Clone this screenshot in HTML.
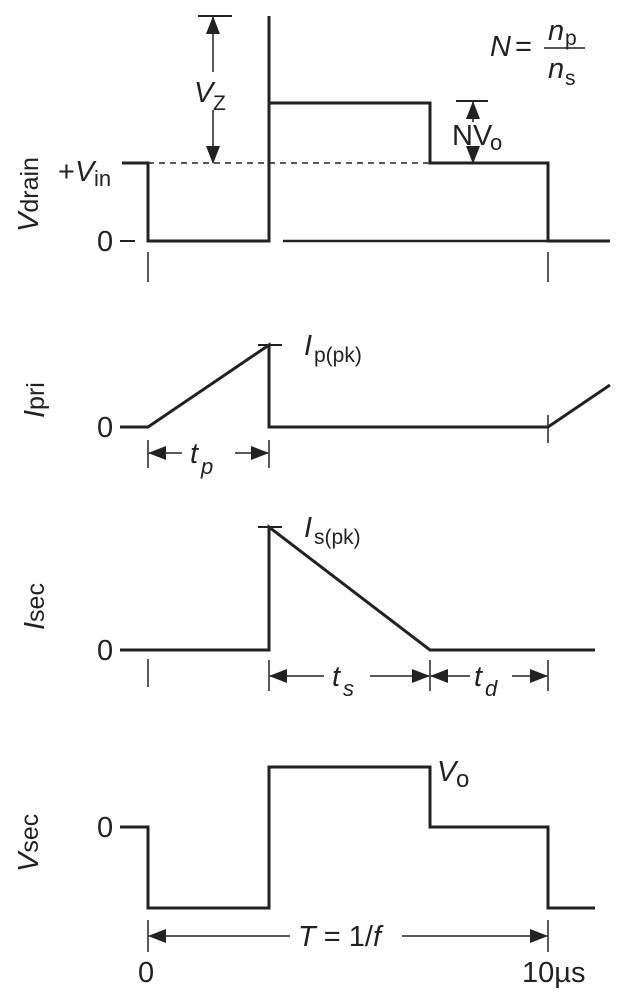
<!DOCTYPE html>
<html><head><style>html,body{margin:0;padding:0;background:#fff}svg{display:block}</style></head><body>
<svg width="630" height="1002" viewBox="0 0 630 1002" xmlns="http://www.w3.org/2000/svg" font-family="Liberation Sans, sans-serif" fill="#222">
<defs>
<marker id="a" markerWidth="18" markerHeight="14" refX="17" refY="7" orient="auto" markerUnits="userSpaceOnUse"><path d="M0,0 L18,7 L0,14 z" fill="#222"/></marker>
</defs>
<g stroke="#222" fill="none" stroke-width="3">
<polyline points="122,163 148,163 148,241 269,241 269,16"/>
<polyline points="269,103 430,103 430,163 548,163 548,241 610,241"/>
<line x1="283" y1="241" x2="548" y2="241" stroke-width="2.5"/>
<line x1="148" y1="163" x2="430" y2="163" stroke-width="1.5" stroke-dasharray="6,5"/>
<line x1="120" y1="241" x2="135" y2="241" stroke-width="2"/>
<line x1="148" y1="252" x2="148" y2="282" stroke-width="1.5"/>
<line x1="548" y1="252" x2="548" y2="282" stroke-width="1.5"/>
<line x1="198" y1="16" x2="232" y2="16" stroke-width="2"/>
<line x1="456" y1="101" x2="488" y2="101" stroke-width="2"/>
<polyline points="120,427 148,427 269,345 269,427 548,427 610,385"/>
<line x1="258" y1="345" x2="282" y2="345" stroke-width="2"/>
<line x1="548" y1="415" x2="548" y2="443" stroke-width="1.5"/>
<line x1="148" y1="440" x2="148" y2="468" stroke-width="1.5"/>
<line x1="269" y1="440" x2="269" y2="468" stroke-width="1.5"/>
<polyline points="120,650 269,650 269,527 430,650 595,650"/>
<line x1="258" y1="527" x2="282" y2="527" stroke-width="2"/>
<line x1="148" y1="659" x2="148" y2="687" stroke-width="1.5"/>
<line x1="269" y1="660" x2="269" y2="691" stroke-width="1.5"/>
<line x1="430" y1="660" x2="430" y2="691" stroke-width="1.5"/>
<line x1="548" y1="660" x2="548" y2="691" stroke-width="1.5"/>
<polyline points="120,827 148,827 148,908 269,908 269,767 430,767 430,827 548,827 548,908 595,908"/>
<line x1="148" y1="920" x2="148" y2="952" stroke-width="1.5"/>
<line x1="548" y1="920" x2="548" y2="952" stroke-width="1.5"/>
</g>
<g stroke="#222" stroke-width="1.5" fill="none">
<line x1="213" y1="72" x2="213" y2="17" marker-end="url(#a)"/>
<line x1="213" y1="110" x2="213" y2="163" marker-end="url(#a)"/>
<line x1="473" y1="122" x2="473" y2="102" marker-end="url(#a)"/>
<line x1="473" y1="150" x2="473" y2="163" marker-end="url(#a)"/>
<line x1="182" y1="453" x2="149" y2="453" marker-end="url(#a)"/>
<line x1="235" y1="453" x2="268" y2="453" marker-end="url(#a)"/>
<line x1="324" y1="676" x2="270" y2="676" marker-end="url(#a)"/>
<line x1="370" y1="676" x2="429" y2="676" marker-end="url(#a)"/>
<line x1="470" y1="676" x2="431" y2="676" marker-end="url(#a)"/>
<line x1="512" y1="676" x2="547" y2="676" marker-end="url(#a)"/>
<line x1="290" y1="936" x2="149" y2="936" marker-end="url(#a)"/>
<line x1="402" y1="936" x2="547" y2="936" marker-end="url(#a)"/>
</g>
<g font-size="29">
<text x="194" y="102" font-style="italic">V</text><text x="213" y="110" font-size="21">Z</text>
<text x="452" y="145">NV</text><text x="490" y="150" font-size="22">o</text>
<text x="490" y="56" font-style="italic">N</text><text x="515" y="56">=</text>
<text x="548" y="40" font-style="italic">n</text><text x="565" y="45" font-size="21">p</text>
<line x1="544" y1="48" x2="585" y2="48" stroke="#222" stroke-width="1.5"/>
<text x="548" y="78" font-style="italic">n</text><text x="565" y="85" font-size="21">s</text>
<text x="58" y="181">+<tspan font-style="italic">V</tspan></text><text x="94" y="186" font-size="22">in</text>
<text x="97" y="251">0</text>
<text x="97" y="437">0</text>
<text x="97" y="660">0</text>
<text x="97" y="837">0</text>
<text x="304" y="355" font-style="italic">I</text><text x="314" y="362" font-size="21">p(pk)</text>
<text x="304" y="537" font-style="italic">I</text><text x="314" y="544" font-size="21">s(pk)</text>
<text x="190" y="463" font-style="italic">t</text><text x="201" y="474" font-size="22" font-style="italic">p</text>
<text x="332" y="686" font-style="italic">t</text><text x="343" y="696" font-size="22" font-style="italic">s</text>
<text x="474" y="686" font-style="italic">t</text><text x="485" y="696" font-size="22" font-style="italic">d</text>
<text x="437" y="781" font-style="italic">V</text><text x="456" y="787" font-size="24">o</text>
<text x="298" y="946"><tspan font-style="italic">T</tspan> = 1/<tspan font-style="italic">f</tspan></text>
<text x="138" y="982">0</text>
<text x="522" y="982">10µs</text>
<text transform="translate(38,232) rotate(-90)"><tspan font-style="italic">V</tspan><tspan font-size="25">drain</tspan></text>
<text transform="translate(44,418) rotate(-90)"><tspan font-style="italic">I</tspan><tspan font-size="25">pri</tspan></text>
<text transform="translate(44,630) rotate(-90)"><tspan font-style="italic">I</tspan><tspan font-size="25">sec</tspan></text>
<text transform="translate(38,872) rotate(-90)"><tspan font-style="italic">V</tspan><tspan font-size="25">sec</tspan></text>
</g>
</svg>
</body></html>
